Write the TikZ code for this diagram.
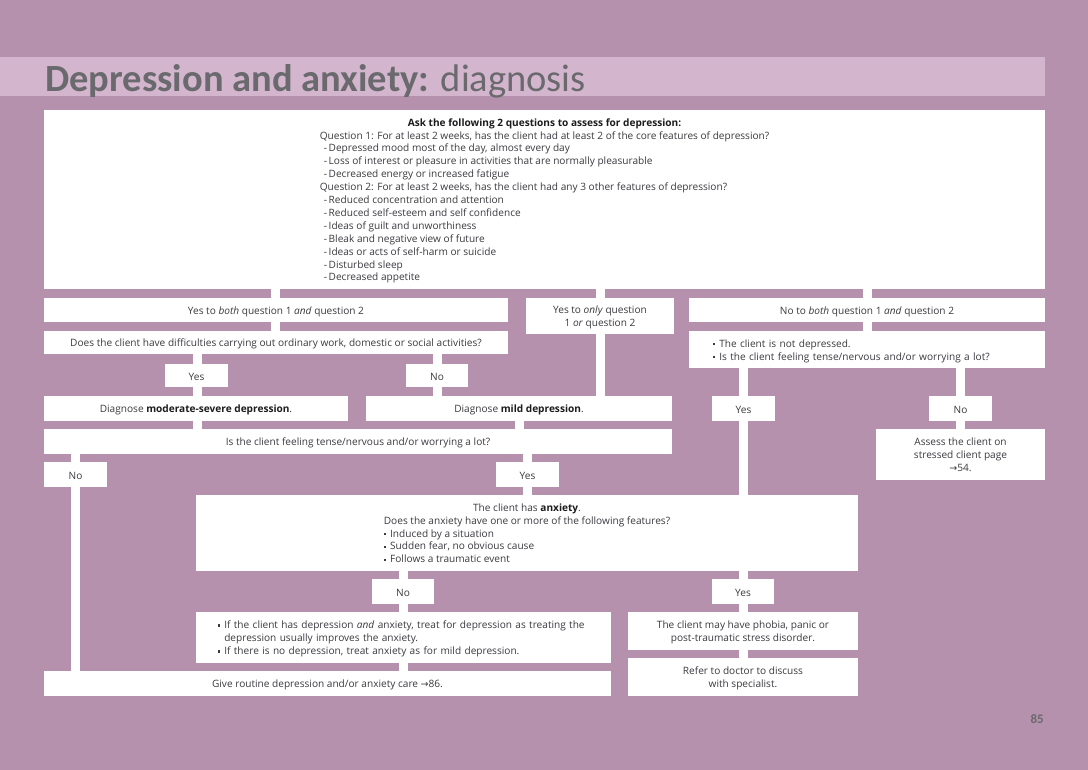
\documentclass[tikz,border=0pt]{standalone}
\usepackage{fontspec}
\setmainfont{Open Sans}
\newfontfamily\ttlfont{Carlito}
\newfontfamily\symf{DejaVu Sans}
\usetikzlibrary{calc}
\definecolor{bg}{RGB}{182,145,173}
\definecolor{band}{RGB}{211,182,205}
\definecolor{ttl}{RGB}{106,106,110}
\definecolor{txt}{RGB}{58,58,64}
\definecolor{bld}{RGB}{28,28,30}
\newcommand\bul{\raisebox{1.9pt}{\rule{2.3pt}{2.3pt}}\hspace{4pt}}
\newcommand\bb[1]{{\bfseries\color{bld}#1}}
\newcommand\arr{{\symf\fontsize{9.5}{10}\selectfont →}}
\tikzset{x=1pt,y=-1pt,
  box/.style={fill=white,draw=none,inner sep=0pt,outer sep=0pt,text=txt,
    font=\fontsize{10.1}{12.9}\selectfont},
  conn/.style={draw=white,line width=9pt},
  padded/.style={align=left},
}
% #1 options, #2 name, #3 x1, #4 y1, #5 x2, #6 y2, #7 text
\newcommand\bx[7][]{%
  \node[box,minimum width={(#5-#3)*1pt},minimum height={(#6-#4)*1pt},#1]
    (#2) at ({(#3+#5)/2},{(#4+#6)/2}) {\raisebox{0pt}[\dimexpr\height+3pt\relax][\depth]{#7}};}
% connector at x=#1 from node #2 (south) to node #3 (north)
\newcommand\cn[3]{\draw[conn] (#1,0 |- #2.south) -- (#1,0 |- #3.north);}
\begin{document}
\begin{tikzpicture}
\fill[bg] (0,0) rectangle (1088,770);
\useasboundingbox (0,0) rectangle (1088,770);
\fill[band] (0,57) rectangle (1045,96);
\node[anchor=base west,inner sep=0pt,text=ttl,font=\ttlfont\fontsize{38.5}{40}\selectfont] (title) at (45,92)
  {\bfseries Depression and anxiety: \mdseries diagnosis};
\node[anchor=base east,inner sep=0pt,text=ttl,font=\ttlfont\fontsize{13}{13}\selectfont\bfseries] (pnum) at (1044,723) {85};

\bx{top}{44}{110}{1045}{289}{\begin{tabular}{@{}l@{}}
\multicolumn{1}{@{}c@{}}{\bb{Ask the following 2 questions to assess for depression:}}\\
Question 1: For at least 2 weeks, has the client had at least 2 of the core features of depression?\\
\hspace*{4pt}-\,Depressed mood most of the day, almost every day\\
\hspace*{4pt}-\,Loss of interest or pleasure in activities that are normally pleasurable\\
\hspace*{4pt}-\,Decreased energy or increased fatigue\\
Question 2: For at least 2 weeks, has the client had any 3 other features of depression?\\
\hspace*{4pt}-\,Reduced concentration and attention\\
\hspace*{4pt}-\,Reduced self-esteem and self confidence\\
\hspace*{4pt}-\,Ideas of guilt and unworthiness\\
\hspace*{4pt}-\,Bleak and negative view of future\\
\hspace*{4pt}-\,Ideas or acts of self-harm or suicide\\
\hspace*{4pt}-\,Disturbed sleep\\
\hspace*{4pt}-\,Decreased appetite
\end{tabular}}
\bx{yboth}{44}{298}{508}{322}{Yes to \emph{both} question 1 \emph{and} question 2}
\bx{yonly}{526}{298}{674}{334}{\begin{tabular}{@{}c@{}}Yes to \emph{only} question\\1 \emph{or} question 2\end{tabular}}
\bx{noboth}{689}{298}{1045}{322}{No to \emph{both} question 1 \emph{and} question 2}
\bx{diff}{44}{331}{508}{354}{Does the client have difficulties carrying out ordinary work, domestic or social activities?}
\bx[padded,text width=356pt]{notdep}{689}{331}{1045}{368}{\hspace*{24pt}\begin{tabular}{@{}l@{}}\bul The client is not depressed.\\
\bul Is the client feeling tense/nervous and/or worrying a lot?\end{tabular}}
\bx{yes1}{165}{364}{228}{387}{Yes}
\bx{no1}{406}{364}{468}{387}{No}
\bx{modsev}{44}{396}{348}{421}{Diagnose \bb{moderate-severe depression}.}
\bx{mild}{366}{396}{672}{421}{Diagnose \bb{mild depression}.}
\bx{yesE}{712}{396}{775}{421}{Yes}
\bx{noE}{929}{396}{992}{421}{No}
\bx{assess}{876}{429}{1045}{480}{\begin{tabular}{@{}c@{}}Assess the client on\\stressed client page\\\arr54.\end{tabular}}
\bx{tense}{44}{429}{672}{454}{Is the client feeling tense/nervous and/or worrying a lot?}
\bx{noT}{44}{462}{107}{487}{No}
\bx{yesT}{496}{462}{559}{487}{Yes}
\bx{anx}{196}{495}{858}{571}{\begin{tabular}{@{}l@{}}
\multicolumn{1}{@{}c@{}}{The client has \bb{anxiety}.}\\
\multicolumn{1}{@{}c@{}}{Does the anxiety have one or more of the following features?}\\
\bul Induced by a situation\\
\bul Sudden fear, no obvious cause\\
\bul Follows a traumatic event
\end{tabular}}
\bx{noA}{372}{579}{434}{604}{No}
\bx{yesA}{712}{579}{774}{604}{Yes}
\bx[padded,text width=415pt]{treat}{196}{612}{611}{663}{\hspace*{22pt}\begin{tabular}{@{}l@{}}
\bul If the client has depression \emph{and} anxiety, treat for depression as treating the\\
\phantom{\bul}depression usually improves the anxiety.\\
\bul If there is no depression, treat anxiety as for mild depression.
\end{tabular}}
\bx{phobia}{628}{612}{858}{650}{\begin{tabular}{@{}c@{}}The client may have phobia, panic or\\post-traumatic stress disorder.\end{tabular}}
\bx{refer}{628}{658}{858}{696}{\begin{tabular}{@{}c@{}}Refer to doctor to discuss\\with specialist.\end{tabular}}
\bx{give}{44}{671}{611}{696}{Give routine depression and/or anxiety care \arr86.}

\cn{275.5}{top}{yboth}
\cn{600}{top}{yonly}
\cn{867}{top}{noboth}
\cn{275.5}{yboth}{diff}
\cn{867}{noboth}{notdep}
\cn{197}{diff}{yes1}
\cn{437}{diff}{no1}
\cn{197}{yes1}{modsev}
\cn{437}{no1}{mild}
\cn{600}{yonly}{mild}
\cn{743.5}{notdep}{yesE}
\cn{960}{notdep}{noE}
\cn{960}{noE}{assess}
\cn{197}{modsev}{tense}
\cn{519.5}{mild}{tense}
\cn{75.5}{tense}{noT}
\cn{527.5}{tense}{yesT}
\cn{527.5}{yesT}{anx}
\cn{743.5}{yesE}{anx}
\cn{403.5}{anx}{noA}
\cn{743.5}{anx}{yesA}
\cn{403.5}{noA}{treat}
\cn{743.5}{yesA}{phobia}
\cn{743.5}{phobia}{refer}
\cn{403.5}{treat}{give}
\cn{75.5}{noT}{give}
\end{tikzpicture}
\end{document}
